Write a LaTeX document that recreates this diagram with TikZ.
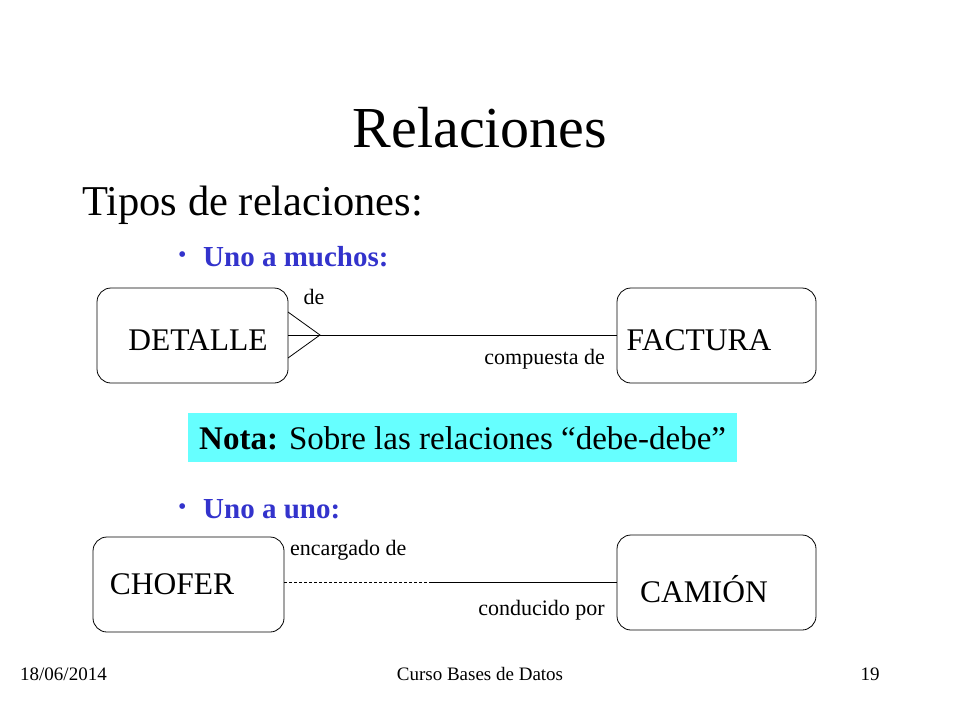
\documentclass[tikz,border=0pt]{standalone}
\usepackage{fontspec}
\setmainfont{Liberation Serif}
\begin{document}
\begin{tikzpicture}[x=1pt,y=-1pt,
 ent/.style={draw,rounded corners=14pt,line width=0.8pt},
 lbl/.style={font=\fontsize{22}{26}\selectfont,inner sep=0pt},
 big/.style={font=\fontsize{31.5}{36}\selectfont,inner sep=0pt},
 bl/.style={font=\fontsize{29}{33}\selectfont\bfseries,text=bluetxt,inner sep=0pt,anchor=west},
 foot/.style={font=\fontsize{19}{22}\selectfont,inner sep=0pt}]
\definecolor{bluetxt}{HTML}{3333CC}
\definecolor{notac}{HTML}{66FFFF}
\useasboundingbox (0,0) rectangle (960,720);
\node[font=\fontsize{58}{68}\selectfont] (title) at (480,128) {Relaciones};
\node[font=\fontsize{42.5}{48}\selectfont,anchor=west,inner sep=0pt] (tipos) at (82,205) {Tipos de relaciones:};
\node[bl,font=\fontsize{24}{28}\selectfont] (d1b) at (178,257) {\textbullet};
\node[bl] (b1) at (203,257) {Uno a muchos:};
\node[bl,font=\fontsize{24}{28}\selectfont] (d2b) at (178,509) {\textbullet};
\node[bl] (b2) at (203,509) {Uno a uno:};
% one to many
\draw[ent] (97,288) rectangle (288,383);
\node[big] (det) at (198,340) {DETALLE};
\draw[ent] (617,288) rectangle (816,383);
\node[big] (fac) at (699,340) {FACTURA};
\coordinate (d1) at (288,335); \coordinate (f1) at (617,335);
\coordinate (cf) at (320,335);
\draw[line width=0.8pt] (d1) -- (f1);
\draw[line width=0.8pt] (288,312) -- (cf) -- (288,358);
\node[lbl] (de) at (314,297) {de};
\node[lbl,anchor=east] (comp) at (605,359) {compuesta de};
% nota
\node[fill=notac,minimum width=549pt,minimum height=49pt,anchor=north west,inner sep=0pt] (nota) at (188,413) {};
\node[font=\fontsize{33}{38}\selectfont,anchor=west,inner sep=0pt] (notat) at (199,438) {\textbf{Nota:} Sobre las relaciones “debe-debe”};
% one to one
\draw[ent] (93,537) rectangle (284,632);
\node[big] (cho) at (172,584) {CHOFER};
\draw[ent] (617,535) rectangle (816,630);
\node[big] (cam) at (704,589) {CAMIÓN};
\coordinate (c1) at (284,582); \coordinate (m) at (432,582); \coordinate (c2) at (617,582);
\draw[line width=0.6pt,dash pattern=on 3pt off 2pt] (c1) -- (m);
\draw[line width=0.8pt] (m) -- (c2);
\node[lbl,anchor=west] (enc) at (290,550) {encargado de};
\node[lbl,anchor=east] (cond) at (605,610) {conducido por};
% footer
\node[foot,anchor=west] (f1t) at (20,674) {18/06/2014};
\node[foot] (f2t) at (480,674) {Curso Bases de Datos};
\node[foot] (f3t) at (870,674) {19};
\end{tikzpicture}
\end{document}
